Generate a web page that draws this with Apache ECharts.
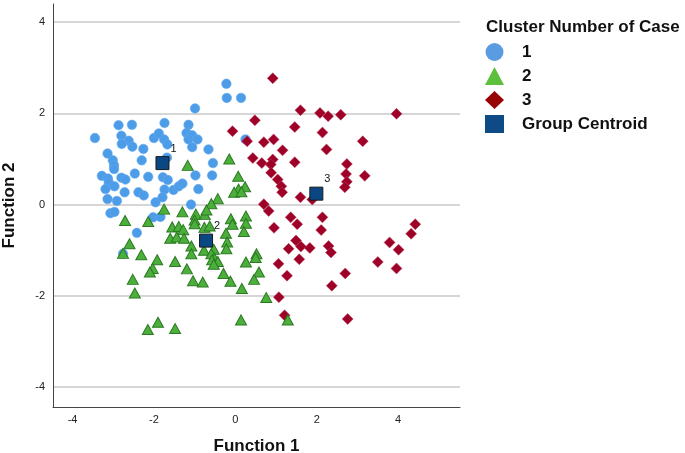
<!DOCTYPE html>
<html>
<head>
<meta charset="utf-8">
<script src="https://cdn.jsdelivr.net/npm/echarts@6/dist/echarts.min.js"></script>
<style>
html,body{margin:0;padding:0;background:#fff;}
#chart{width:685px;height:453px;}
</style>
</head>
<body>
<div id="chart"></div>
<script>
// ---- data ----
const xTicks = [-4, -2, 0, 2, 4];
const yTicks = [-4, -2, 0, 2, 4];

const cluster1 = [
  [-0.99,2.11],[-2.87,1.74],[-2.54,1.75],[-1.74,1.79],[-1.15,1.75],[-3.45,1.46],[-2.80,1.51],
  [-2.62,1.40],[-2.79,1.33],[-2.53,1.27],[-2.00,1.46],[-1.88,1.56],[-1.75,1.43],[-1.67,1.32],
  [-1.20,1.57],[-1.15,1.43],[-1.06,1.52],[-0.93,1.43],[-1.06,1.26],[-2.26,1.22],[-3.14,1.12],
  [-3.01,0.97],[-2.98,0.86],[-2.98,0.78],[-2.30,0.97],[-1.68,1.03],[-3.28,0.63],[-3.13,0.57],
  [-3.11,0.48],[-2.80,0.59],[-2.70,0.55],[-2.47,0.68],[-2.14,0.61],[-1.78,0.60],[-1.66,0.54],
  [-0.98,0.64],[-3.19,0.34],[-2.97,0.40],[-2.72,0.27],[-2.38,0.27],[-2.25,0.20],[-1.74,0.33],
  [-1.52,0.32],[-1.39,0.40],[-1.30,0.46],[-0.91,0.34],[-3.14,0.12],[-2.91,0.08],[-1.96,0.05],
  [-1.79,0.16],[-1.09,0.00],[-0.22,2.65],[-0.21,2.34],[0.14,2.34],[-0.66,1.21],[-0.55,0.91],
  [-0.57,0.64],[0.25,1.43],[-3.07,-0.19],[-2.97,-0.16],[-2.02,-0.28],[-1.84,-0.27],[-2.42,-0.62],
  [-2.76,-1.08]
];

const cluster2 = [
  [-1.17,0.86],[-0.15,1.00],[0.07,0.62],[0.24,0.39],[0.08,0.34],[-0.03,0.27],[0.15,0.28],
  [-0.43,0.13],[-0.59,0.02],[-1.75,-0.10],[-1.30,-0.16],[-0.97,-0.21],[-0.75,-0.22],[-1.00,-0.34],
  [-1.00,-0.42],[-0.71,-0.12],[-0.76,-0.50],[-0.63,-0.47],[-2.71,-0.35],[-2.14,-0.37],[-1.55,-0.49],
  [-1.39,-0.48],[-1.28,-0.55],[-1.60,-0.74],[-1.44,-0.71],[-1.26,-0.74],[-0.11,-0.31],[-0.07,-0.43],
  [0.26,-0.25],[0.26,-0.41],[0.21,-0.59],[-0.23,-0.63],[-0.20,-0.82],[-0.22,-0.97],[-0.53,-0.98],
  [-0.77,-1.00],[-0.59,-1.08],[-0.51,-1.18],[-0.57,-1.21],[-0.43,-1.25],[-0.53,-1.31],[-2.60,-0.86],
  [-2.76,-1.07],[-2.31,-1.10],[-1.92,-1.21],[-1.48,-1.25],[-1.08,-0.91],[-1.08,-1.08],[-2.03,-1.40],
  [-2.10,-1.48],[-1.19,-1.41],[-2.52,-1.64],[-2.47,-1.94],[-1.04,-1.67],[-0.80,-1.70],[-0.29,-1.51],
  [-0.12,-1.68],[0.16,-1.84],[0.26,-1.26],[0.52,-1.08],[0.50,-1.16],[0.58,-1.48],[0.46,-1.64],
  [0.76,-2.04],[0.14,-2.53],[1.29,-2.53],[-2.15,-2.74],[-1.90,-2.58],[-1.48,-2.72]
];

const cluster3 = [
  [0.92,2.77],[1.60,2.07],[2.08,2.01],[2.28,1.94],[2.59,1.97],[3.96,1.99],[0.48,1.85],
  [-0.07,1.61],[1.46,1.70],[2.14,1.58],[0.29,1.39],[0.70,1.37],[0.94,1.43],[1.16,1.19],
  [2.24,1.21],[3.13,1.39],[0.43,1.02],[0.65,0.91],[0.92,0.99],[0.87,0.88],[1.46,0.93],
  [0.88,0.70],[1.04,0.55],[1.13,0.40],[1.15,0.27],[1.60,0.16],[1.89,0.11],[2.74,0.89],
  [2.72,0.67],[2.74,0.50],[2.69,0.38],[3.18,0.63],[0.70,0.01],[0.82,-0.14],[1.36,-0.28],
  [1.52,-0.43],[2.14,-0.28],[0.95,-0.51],[2.11,-0.56],[1.49,-0.79],[1.61,-0.92],[1.31,-0.97],
  [1.83,-0.95],[1.57,-1.20],[1.06,-1.30],[1.27,-1.56],[1.07,-2.03],[1.21,-2.43],[2.29,-0.91],
  [2.35,-1.05],[2.70,-1.51],[2.37,-1.78],[2.76,-2.51],[4.42,-0.43],[4.32,-0.64],[3.79,-0.83],
  [4.01,-0.99],[3.50,-1.26],[3.96,-1.40]
];

const centroidX = [-1.79, -0.72, 1.99];
const centroidY = [0.91, -0.79, 0.24];
const centroidLabels = ['1', '2', '3'];

const seriesNames = ['1', '2', '3', 'Group Centroid'];
const legendTitle = 'Cluster Number of Case';
const xName = 'Function 1';
const yName = 'Function 2';

// ---- chart ----
const FONT = "'Liberation Sans', Arial, Helvetica, sans-serif";
const centroidData = centroidX.map((x, i) => [x, centroidY[i], centroidLabels[i]]);

const chart = echarts.init(document.getElementById('chart'), null, {renderer: 'canvas'});
chart.setOption({
  animation: false,
  backgroundColor: '#ffffff',
  textStyle: {fontFamily: FONT},
  title: {
    text: legendTitle,
    left: 486, top: 19, padding: 0,
    textStyle: {fontFamily: FONT, fontSize: 17, fontWeight: 'bold', color: '#111'}
  },
  legend: {
    orient: 'vertical',
    left: 485, top: 43,
    padding: 0,
    itemWidth: 19, itemHeight: 18, itemGap: 6,
    textStyle: {fontFamily: FONT, fontSize: 17, fontWeight: 'bold', color: '#111', padding: [0, 0, 0, 13]},
    data: [
      {name: seriesNames[0], icon: 'circle', itemStyle: {color: '#5b9be2', borderWidth: 0}},
      {name: seriesNames[1], icon: 'triangle', itemStyle: {color: '#5cc03c', borderWidth: 0}},
      {name: seriesNames[2], icon: 'diamond', itemStyle: {color: '#990000', borderWidth: 0}},
      {name: seriesNames[3], icon: 'rect', itemStyle: {color: '#0d4a86', borderWidth: 0}}
    ]
  },
  grid: {left: 53, right: 225, top: 4, bottom: 46, containLabel: false, outerBoundsMode: 'none'},
  xAxis: {
    type: 'value', min: -4.48, max: 5.52,
    name: xName, nameLocation: 'middle', nameGap: 31,
    nameTextStyle: {fontFamily: FONT, fontSize: 17, fontWeight: 'bold', color: '#111'},
    axisLine: {show: true, onZero: false, lineStyle: {color: '#444', width: 1}},
    axisTick: {show: false, customValues: xTicks},
    axisLabel: {customValues: xTicks, fontSize: 11, color: '#222', margin: 7, fontFamily: FONT},
    splitLine: {show: false}
  },
  yAxis: {
    type: 'value', min: -4.44, max: 4.4,
    name: yName, nameLocation: 'middle', nameGap: 35,
    nameTextStyle: {fontFamily: FONT, fontSize: 17, fontWeight: 'bold', color: '#111'},
    axisLine: {show: true, onZero: false, lineStyle: {color: '#444', width: 1}},
    axisTick: {show: false, customValues: yTicks},
    axisLabel: {customValues: yTicks, fontSize: 11, color: '#222', margin: 8, fontFamily: FONT},
    splitLine: {show: true, lineStyle: {color: '#c8c8c8', width: 1.5}}
  },
  series: [
    {
      name: seriesNames[0], type: 'scatter', symbol: 'circle', symbolSize: 9.5,
      itemStyle: {color: '#4d9ce7', borderColor: '#63aaf0', borderWidth: 0.6, opacity: 1},
      data: cluster1, z: 2
    },
    {
      name: seriesNames[2], type: 'scatter', symbol: 'diamond', symbolSize: 11,
      itemStyle: {color: '#9e0028', borderColor: '#b8405c', borderWidth: 0.5, opacity: 1},
      data: cluster3, z: 3
    },
    {
      name: seriesNames[1], type: 'scatter', symbol: 'triangle', symbolSize: [11, 10],
      itemStyle: {color: '#4caf3b', borderColor: '#2a7a22', borderWidth: 1, opacity: 1},
      data: cluster2, z: 4
    },
    {
      name: seriesNames[3], type: 'scatter', symbol: 'rect', symbolSize: 13,
      itemStyle: {color: '#0b4782', borderColor: '#1a1a1a', borderWidth: 1, opacity: 1},
      label: {
        show: true, position: [15, -13],
        formatter: p => p.value[2],
        fontSize: 11, color: '#111', fontFamily: FONT
      },
      data: centroidData, z: 5
    }
  ]
});
</script>
</body>
</html>
